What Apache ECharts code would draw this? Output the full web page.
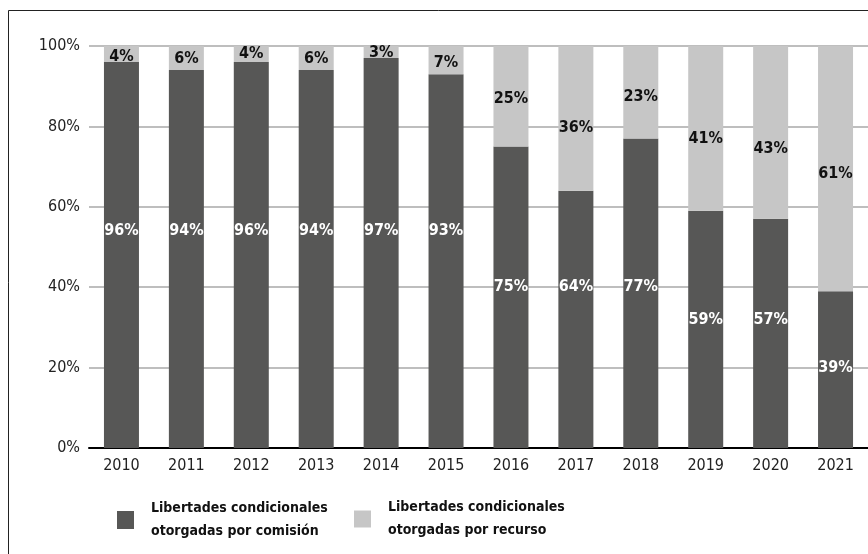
<!DOCTYPE html>
<html>
<head>
<meta charset="utf-8">
<script src="https://cdn.jsdelivr.net/npm/echarts@6/dist/echarts.min.js"></script>
<style>
  html, body { margin: 0; padding: 0; background: #fff; }
  #main { width: 868px; height: 554px; }
</style>
</head>
<body>
<div id="main"></div>
<script>
var years = ['2010','2011','2012','2013','2014','2015','2016','2017','2018','2019','2020','2021'];
var comision = [96, 94, 96, 94, 97, 93, 75, 64, 77, 59, 57, 39];
var recurso  = [4, 6, 4, 6, 3, 7, 25, 36, 23, 41, 43, 61];
var seriesNames = ['Libertades condicionales\notorgadas por comisión', 'Libertades condicionales\notorgadas por recurso'];

// height (in %) where each printed figure sits in the original
var comisionLabelAt = [54, 54, 54, 54, 54, 54, 40, 40, 40, 32, 32, 20];
var recursoLabelAt  = [97.3, 96.7, 98, 96.7, 98.2, 95.8, 86.8, 79.7, 87.3, 76.9, 74.4, 68.2];

var font = "'DejaVu Sans Condensed', 'Liberation Sans Narrow', sans-serif";
var gridTop = 46, gridH = 402;

function pctLabels(vals, base, at)
{
    var out = [];
    for (var i = 0; i < vals.length; i++) {
        var b = base ? base[i] : 0;
        var center = b + vals[i] / 2;
        out.push({
            value: vals[i],
            label: { offset: [0, (center - at[i]) * gridH / 100] }
        });
    }
    return out;
}

var legendText = { fontFamily: font, fontWeight: 'bold', fontSize: 14, lineHeight: 23, color: '#111', padding: [0, 0, 0, 12] };

var chart = echarts.init(document.getElementById('main'));
var option = {
    animation: false,
    backgroundColor: '#fff',
    textStyle: { fontFamily: font },
    graphic: [{
        type: 'rect',
        shape: { x: 8.5, y: 10.5, width: 900, height: 600 },
        style: { fill: 'none', stroke: '#222', lineWidth: 1 },
        silent: true
    }],
    grid: { left: 89, right: -3, top: gridTop, height: gridH },
    legend: [{
        data: [seriesNames[0]],
        left: 112, top: 492,
        itemWidth: 17, itemHeight: 18,
        icon: 'rect',
        textStyle: legendText
    }, {
        data: [seriesNames[1]],
        left: 349, top: 491,
        itemWidth: 17, itemHeight: 17,
        icon: 'rect',
        textStyle: legendText
    }],
    xAxis: {
        type: 'category',
        data: years,
        axisLine: { lineStyle: { color: '#000', width: 2 } },
        axisTick: { show: false },
        axisLabel: { fontFamily: font, fontSize: 16, color: '#222', margin: 10 }
    },
    yAxis: {
        type: 'value',
        min: 0, max: 100, interval: 20,
        axisLine: { show: false },
        axisTick: { show: false },
        axisLabel: { fontFamily: font, fontSize: 16, color: '#222', margin: 9, formatter: '{value}%' },
        splitLine: { lineStyle: { color: '#a9a9a9', width: 1.5 } }
    },
    series: [{
        name: seriesNames[0],
        type: 'bar',
        stack: 'total',
        barWidth: 35,
        itemStyle: { color: '#575756' },
        label: {
            show: true, position: 'inside', formatter: '{c}%',
            color: '#fff', fontFamily: font, fontWeight: 'bold', fontSize: 16
        },
        data: pctLabels(comision, null, comisionLabelAt)
    }, {
        name: seriesNames[1],
        type: 'bar',
        stack: 'total',
        barWidth: 35,
        itemStyle: { color: '#c6c6c6' },
        label: {
            show: true, position: 'inside', formatter: '{c}%',
            color: '#111', fontFamily: font, fontWeight: 'bold', fontSize: 16
        },
        data: pctLabels(recurso, comision, recursoLabelAt)
    }]
};
chart.setOption(option);
</script>
</body>
</html>
